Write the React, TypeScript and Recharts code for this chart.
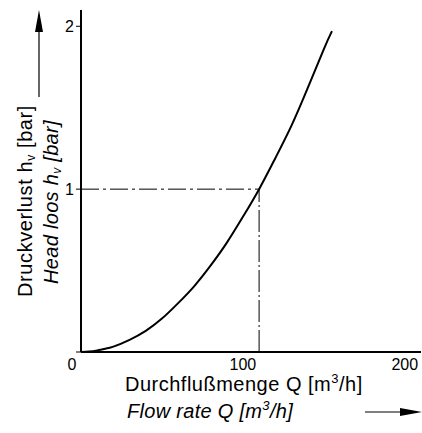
import React from "react"
import { LineChart, Line, XAxis, YAxis, ReferenceLine } from "recharts"

// flow rate Q [m3/h] and head loss hv [bar]
const flowRate = [0, 5, 10, 15, 20, 30, 40, 50, 60, 70, 80, 90, 100, 110, 120, 130, 140, 150, 155]
const headLoss = [0, 0.003, 0.01, 0.02, 0.033, 0.075, 0.13, 0.205, 0.3, 0.405, 0.53, 0.67, 0.83, 1.0, 1.19, 1.39, 1.62, 1.86, 1.97]

const xTicks = [0, 100, 200]
const yTicks = [0, 1, 2]

// operating point marked with the dashed lines
const markQ = 110
const markH = 1

const data = flowRate.map((q, i) => ({ q, h: headLoss[i] }))

const font = "'Liberation Sans', Arial, Helvetica, sans-serif"

function XTick(props: any) {
  const { x, y, payload } = props
  const shift = payload.value === 0 ? -9 : 0
  return (
    <text x={x + shift} y={y} dy="0.71em" textAnchor="middle" fontSize={16} fontFamily={font} fill="#000">
      {payload.value}
    </text>
  )
}

function YTick(props: any) {
  const { x, y, payload } = props
  if (payload.value === 0) return <g />
  return (
    <text x={x} y={y} dy="0.355em" textAnchor="end" fontSize={16} fontFamily={font} fill="#000">
      {payload.value}
    </text>
  )
}

export default function App() {
  return (
    <div style={{ position: "absolute", left: 0, top: 0, width: 422, height: 433, background: "#fff" }}>
      <LineChart width={422} height={433} data={data} margin={{ top: 10, right: 1, left: 0, bottom: 0 }}>
        <XAxis
          dataKey="q"
          type="number"
          domain={[0, 210]}
          ticks={xTicks}
          height={81}
          tickLine={false}
          tickSize={5}
          tick={<XTick />}
          axisLine={{ stroke: "#000", strokeWidth: 2 }}
        />
        <YAxis
          type="number"
          domain={[0, 2.1]}
          ticks={yTicks}
          width={81}
          tickSize={5}
          tickLine={{ stroke: "#000", strokeWidth: 1 }}
          tick={<YTick />}
          axisLine={{ stroke: "#000", strokeWidth: 2 }}
        />
        <ReferenceLine
          segment={[{ x: 0, y: markH }, { x: markQ, y: markH }]}
          stroke="#000"
          strokeWidth={1}
          strokeDasharray="18 4 3 4"
        />
        <ReferenceLine
          segment={[{ x: markQ, y: 0 }, { x: markQ, y: markH }]}
          stroke="#000"
          strokeWidth={1}
          strokeDasharray="22 3 2 3"
        />
        <Line
          dataKey="h"
          type="natural"
          stroke="#000"
          strokeWidth={2}
          dot={false}
          isAnimationActive={false}
        />
      </LineChart>
      <svg
        width={422}
        height={433}
        style={{ position: "absolute", left: 0, top: 0, pointerEvents: "none" }}
        fontFamily={font}
      >
        <g transform="translate(32,201) rotate(-90)">
          <text textAnchor="middle" fontSize={20} letterSpacing={0.6} fill="#000">
            Druckverlust h<tspan dy={3} fontSize={12}>v</tspan>
            <tspan dy={-3}> [bar]</tspan>
          </text>
        </g>
        <g transform="translate(58,202) rotate(-90)">
          <text textAnchor="middle" fontSize={20} letterSpacing={0.3} fontStyle="italic" fill="#000">
            Head loos h<tspan dy={3} fontSize={12}>v</tspan>
            <tspan dy={-3}> [bar]</tspan>
          </text>
        </g>
        <line x1={39} y1={97} x2={39} y2={28} stroke="#000" strokeWidth={1.2} />
        <polygon points="39,10 35,32 43,32" fill="#000" />

        <text x={125} y={391} fontSize={20} letterSpacing={0.5} fill="#000">
          Durchflußmenge Q [m<tspan dy={-8} fontSize={13}>3</tspan>
          <tspan dy={8}>/h]</tspan>
        </text>
        <text x={127} y={418} fontSize={20} letterSpacing={0.3} fontStyle="italic" fill="#000">
          Flow rate Q [m<tspan dy={-8} fontSize={13}>3</tspan>
          <tspan dy={8}>/h]</tspan>
        </text>
        <line x1={365} y1={412} x2={402} y2={412} stroke="#000" strokeWidth={1.2} />
        <polygon points="422,412 400,408 400,416" fill="#000" />
      </svg>
    </div>
  )
}
